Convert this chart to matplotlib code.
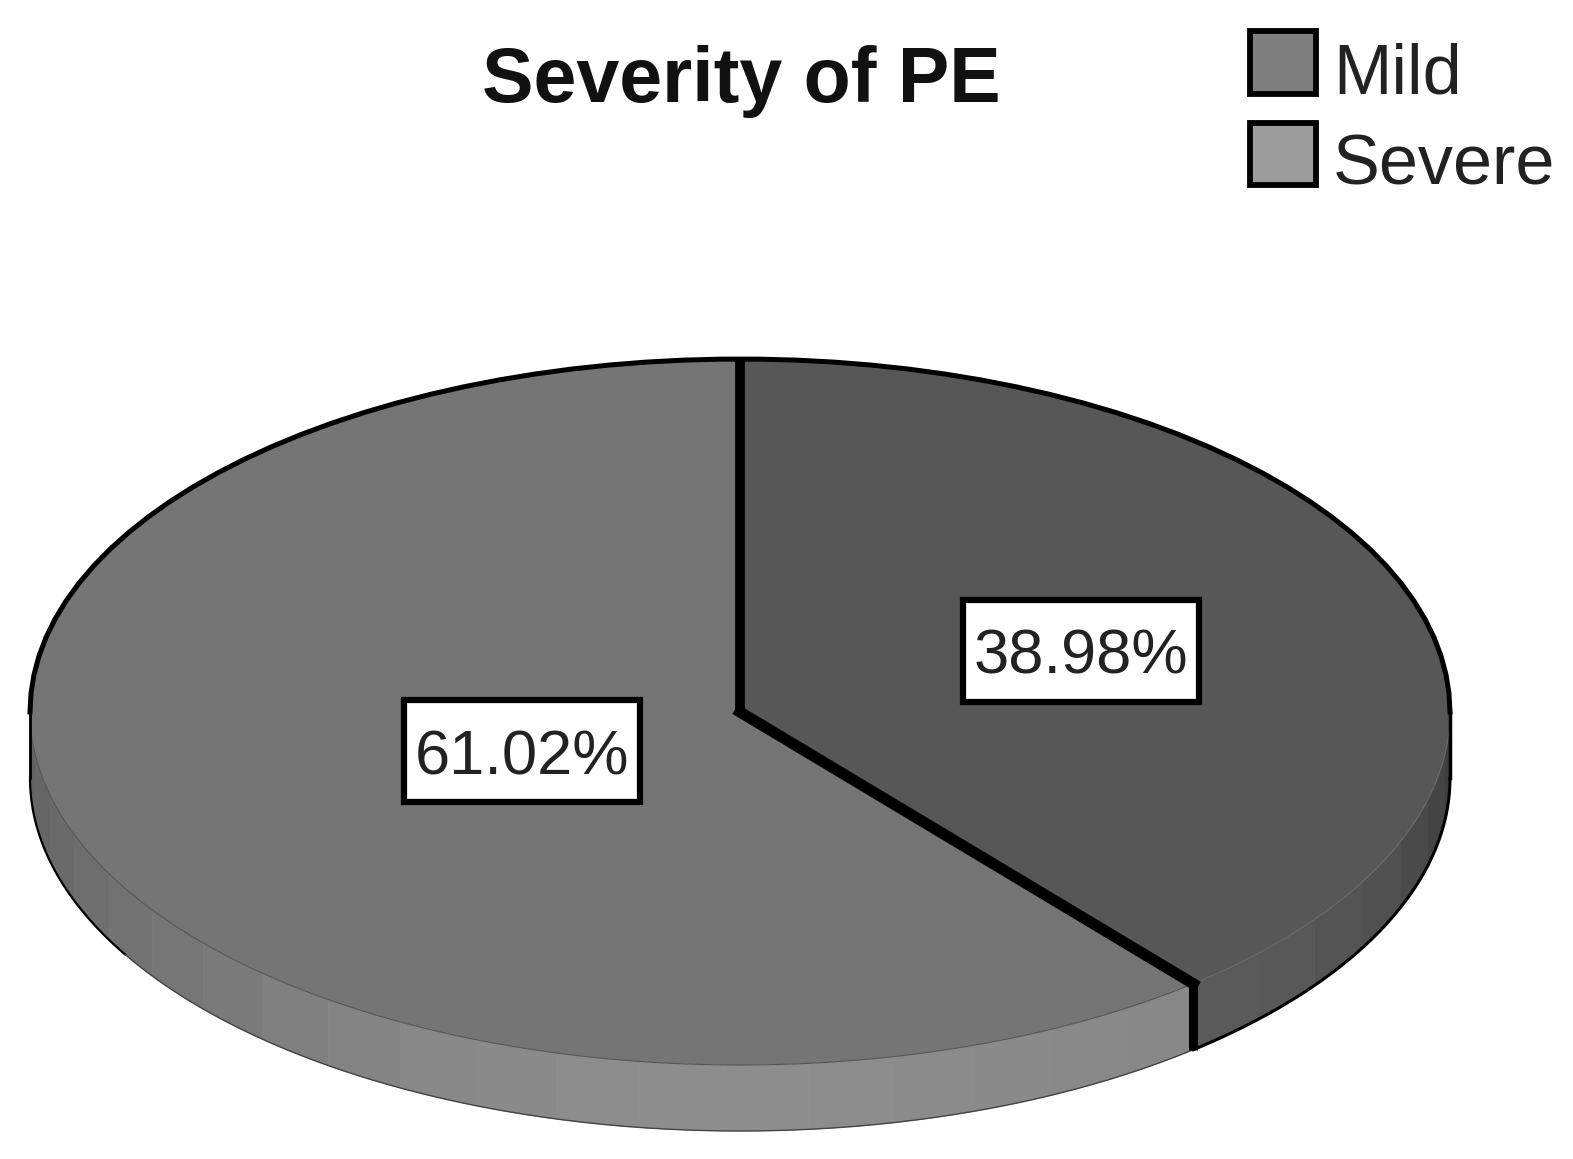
import numpy as np
import matplotlib
matplotlib.use("Agg")
import matplotlib.pyplot as plt
from matplotlib.legend_handler import HandlerPatch
from matplotlib.patches import Patch, Polygon, Rectangle

# ==========================
# Data
# ==========================
categories = ["Mild", "Severe"]
values = [38.98, 61.02]
top_colors = ["#575757", "#757575"]
legend_colors = ["#7f7f7f", "#9c9c9c"]
label_radius = [0.51, 0.327]

# side wall shades, going from the left edge to the right edge of the pie
severe_shades = [0x62, 0x66, 0x6a, 0x6e, 0x72, 0x76, 0x7a, 0x80, 0x84, 0x88,
                 0x8a, 0x8c, 0x8d, 0x8d, 0x8c, 0x8b, 0x8a, 0x89, 0x88]
mild_shades = [0x5a, 0x58, 0x54, 0x50, 0x4a, 0x44, 0x3e]

# pie geometry in pixels of the 1573x1159 picture
W, H = 1573, 1159
CX, CY = 740, 712
RX, RY = 710, 353
DEPTH = 66 / RY
BOX_W, BOX_H = 236, 102

plt.rcParams["font.family"] = ["Liberation Sans", "DejaVu Sans"]


def ellipse_points(a1, a2, drop=0.0):
    t = np.radians(np.linspace(a1, a2, 60))
    return np.cos(t), np.sin(t) - drop


def draw_side(ax, a1, a2, shades):
    edges = np.linspace(a1, a2, len(shades) + 1)
    for i, shade in enumerate(shades):
        x1, y1 = ellipse_points(edges[i], edges[i + 1])
        x2, y2 = ellipse_points(edges[i + 1], edges[i], DEPTH)
        pts = np.column_stack([np.r_[x1, x2], np.r_[y1, y2]])
        color = "#{0:02x}{0:02x}{0:02x}".format(shade)
        ax.add_patch(Polygon(pts, closed=True, fc=color, ec=color, lw=0.5, zorder=1))


def legend_box(legend, orig_handle, xdescent, ydescent, width, height, fontsize):
    # box sits on the text baseline
    return Rectangle((-xdescent, -ydescent + 5), width, height)


def main():
    fig = plt.figure(figsize=(W / 100, H / 100), dpi=100)
    ax = fig.add_axes([0, 0, 1, 1])

    wedges, _ = ax.pie(values, colors=top_colors, startangle=90, counterclock=False,
                       radius=1, wedgeprops={"linewidth": 0, "zorder": 2})
    ax.set_aspect("auto")
    ax.set_xlim(-CX / RX, (W - CX) / RX)
    ax.set_ylim(-(H - CY) / RY, CY / RY)

    split = wedges[0].theta1 + 360

    draw_side(ax, 180, split, severe_shades)
    draw_side(ax, split, 360, mild_shades)

    # outline of the top and the bottom rim
    ax.plot(*ellipse_points(0, 180), color="black", lw=3.6, zorder=3)
    ax.plot(*ellipse_points(180, 210, DEPTH), color="black", lw=1.6, zorder=3)
    ax.plot(*ellipse_points(210, split, DEPTH), color="#444444", lw=1.0, zorder=3)
    ax.plot(*ellipse_points(split, 360, DEPTH), color="black", lw=2.2, zorder=3)
    ax.plot(*ellipse_points(180, split), color="#555555", lw=0.8, zorder=3)
    ax.plot(*ellipse_points(split, 360), color="#6a6a6a", lw=0.8, zorder=3)
    ax.plot([-1, -1], [0, -DEPTH], color="black", lw=2.0, zorder=3)
    ax.plot([1, 1], [0, -DEPTH], color="black", lw=2.5, zorder=3)

    # black lines between the slices
    t = np.radians(split)
    ax.plot([0, 0], [1, 0], color="black", lw=7, solid_capstyle="butt", zorder=4)
    ax.plot([0, np.cos(t)], [0, np.sin(t)], color="black", lw=8,
            solid_capstyle="projecting", zorder=4)
    ax.plot([np.cos(t), np.cos(t)], [np.sin(t), np.sin(t) - DEPTH], color="black",
            lw=6.5, solid_capstyle="butt", zorder=4)

    # percentage boxes
    for wedge, value, r in zip(wedges, values, label_radius):
        mid = np.radians((wedge.theta1 + wedge.theta2) / 2)
        x, y = r * np.cos(mid), r * np.sin(mid)
        ax.add_patch(Rectangle((x - BOX_W / 2 / RX, y - BOX_H / 2 / RY), BOX_W / RX, BOX_H / RY,
                               fc="white", ec="black", lw=4.5, zorder=5))
        ax.text(x, y, f"{value:.2f}%", fontsize=45.5, color="#222222",
                ha="center", va="center_baseline", zorder=6)

    fig.text(741 / W, 1 - 102 / H, "Severity of PE", fontsize=55.5, fontweight="bold",
             color="#111111", ha="center", va="baseline")

    handles = [Patch(fc=c, ec="black", lw=4.2) for c in legend_colors]
    fig.legend(handles, categories, loc="upper left", bbox_to_anchor=(1236 / W, 1 - 24 / H),
               frameon=False, fontsize=50.5, labelcolor="#222222", handlelength=0.94,
               handleheight=1.0, handletextpad=0.24, labelspacing=0.3,
               borderpad=0.2, borderaxespad=0,
               handler_map={Patch: HandlerPatch(patch_func=legend_box)})

    fig.savefig("out.png", dpi=100)


if __name__ == "__main__":
    main()
